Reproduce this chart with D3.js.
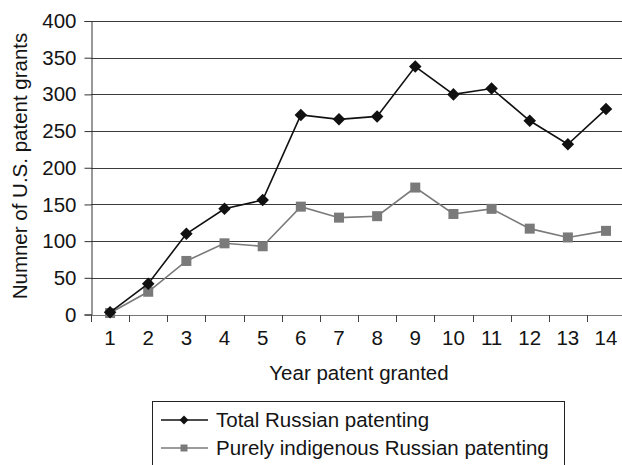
<!DOCTYPE html>
<html>
<head>
<meta charset="utf-8">
<script src="https://cdn.jsdelivr.net/npm/d3@7"></script>
<style>
  html, body { margin: 0; padding: 0; background: #fff; }
  svg { display: block; font-family: "Liberation Sans", Arial, Helvetica, sans-serif; }
</style>
</head>
<body>
<svg id="chart" width="622" height="465"></svg>
<script>
// Years since start (category labels on the x axis)
const years = ["1", "2", "3", "4", "5", "6", "7", "8", "9", "10", "11", "12", "13", "14"];
// Total Russian patent grants per year
const totalRussian = [3, 42, 110, 144, 156, 272, 266, 270, 338, 300, 308, 264, 232, 280];
// Purely indigenous Russian patent grants per year
const indigenousRussian = [2, 31, 73, 97, 93, 147, 132, 134, 173, 137, 144, 117, 105, 114];
// Value axis ticks
const yTicks = [0, 50, 100, 150, 200, 250, 300, 350, 400];
const seriesNames = ["Total Russian patenting", "Purely indigenous Russian patenting"];

const svg = d3.select("#chart");
const fs = 20.5;
const ink = "#141414";

const plotLeft = 91, plotTop = 21, plotBottom = 314.5;
const step = 38.15;
const x = d3.scaleBand().domain(years).range([plotLeft, plotLeft + step * years.length]).padding(0);
const y = d3.scaleLinear().domain([0, 400]).range([plotBottom, plotTop]);

// Horizontal gridlines
svg.append("g")
  .selectAll("line")
  .data(yTicks.filter(d => d > 0))
  .join("line")
  .attr("x1", plotLeft).attr("x2", 622)
  .attr("y1", d => Math.round(y(d)) + 0.5).attr("y2", d => Math.round(y(d)) + 0.5)
  .attr("stroke", "#3a3a3a").attr("stroke-width", 1);

// Y axis
const yAxis = svg.append("g")
  .attr("transform", `translate(${plotLeft + 0.5},0)`)
  .call(d3.axisLeft(y).tickValues(yTicks).tickSize(7).tickPadding(8).tickFormat(d3.format("d")));
yAxis.select(".domain").attr("stroke", "#333");
yAxis.selectAll(".tick line").attr("stroke", "#333");
yAxis.selectAll("text").attr("font-size", fs).attr("fill", ink).attr("font-family", null);

// X axis: ticks sit on band boundaries, labels centred in bands
const xg = svg.append("g");
xg.append("line")
  .attr("x1", plotLeft).attr("x2", 622)
  .attr("y1", Math.round(plotBottom) + 0.5).attr("y2", Math.round(plotBottom) + 0.5)
  .attr("stroke", "#777");
xg.selectAll("line.tk")
  .data(years)
  .join("line").attr("class", "tk")
  .attr("x1", d => Math.round(x(d)) + 0.5).attr("x2", d => Math.round(x(d)) + 0.5)
  .attr("y1", Math.round(plotBottom)).attr("y2", Math.round(plotBottom) + 7)
  .attr("stroke", "#444");
xg.selectAll("text")
  .data(years)
  .join("text")
  .attr("x", d => x(d) + x.bandwidth() / 2)
  .attr("y", 345)
  .attr("text-anchor", "middle")
  .attr("font-size", fs).attr("fill", ink)
  .text(d => d);

// Axis titles
svg.append("text")
  .attr("x", 359).attr("y", 380)
  .attr("text-anchor", "middle").attr("font-size", fs).attr("fill", ink)
  .text("Year patent granted");
svg.append("text")
  .attr("transform", "translate(27,166) rotate(-90)")
  .attr("text-anchor", "middle").attr("font-size", fs).attr("fill", ink)
  .text("Numner of U.S. patent grants");

const cx = d => x(d) + x.bandwidth() / 2;
const line = d3.line().x((d, i) => cx(years[i])).y(d => y(d));

// Indigenous series (grey, squares)
svg.append("path").datum(indigenousRussian)
  .attr("d", line).attr("fill", "none").attr("stroke", "#7a7a7a").attr("stroke-width", 1.6);
svg.append("g").selectAll("rect")
  .data(indigenousRussian)
  .join("rect")
  .attr("x", (d, i) => cx(years[i]) - 5).attr("y", d => y(d) - 5)
  .attr("width", 10).attr("height", 10)
  .attr("fill", "#7a7a7a");

// Total series (black, diamonds)
svg.append("path").datum(totalRussian)
  .attr("d", line).attr("fill", "none").attr("stroke", "#111").attr("stroke-width", 1.6);
const diamond = d3.symbol().type(d3.symbolDiamond2).size(100);
svg.append("g").selectAll("path")
  .data(totalRussian)
  .join("path")
  .attr("transform", (d, i) => `translate(${cx(years[i])},${y(d)})`)
  .attr("d", diamond)
  .attr("fill", "#111");

// Legend
const lg = svg.append("g");
lg.append("rect")
  .attr("x", 152.5).attr("y", 401.5).attr("width", 412).attr("height", 80)
  .attr("fill", "#fff").attr("stroke", "#222").attr("stroke-width", 1);
const rows = [
  { name: seriesNames[0], color: "#111", shape: "diamond", cy: 420 },
  { name: seriesNames[1], color: "#7a7a7a", shape: "square", cy: 448 }
];
rows.forEach(r => {
  lg.append("line").attr("x1", 161).attr("x2", 208).attr("y1", r.cy).attr("y2", r.cy)
    .attr("stroke", r.color).attr("stroke-width", 1.6);
  if (r.shape === "diamond") {
    lg.append("path").attr("transform", `translate(184,${r.cy})`)
      .attr("d", d3.symbol().type(d3.symbolDiamond2).size(50)).attr("fill", r.color);
  } else {
    lg.append("rect").attr("x", 180.5).attr("y", r.cy - 3.5).attr("width", 7).attr("height", 7)
      .attr("fill", r.color);
  }
  lg.append("text").attr("x", 216).attr("y", r.cy + 7)
    .attr("font-size", fs).attr("fill", ink).text(r.name);
});
</script>
</body>
</html>
